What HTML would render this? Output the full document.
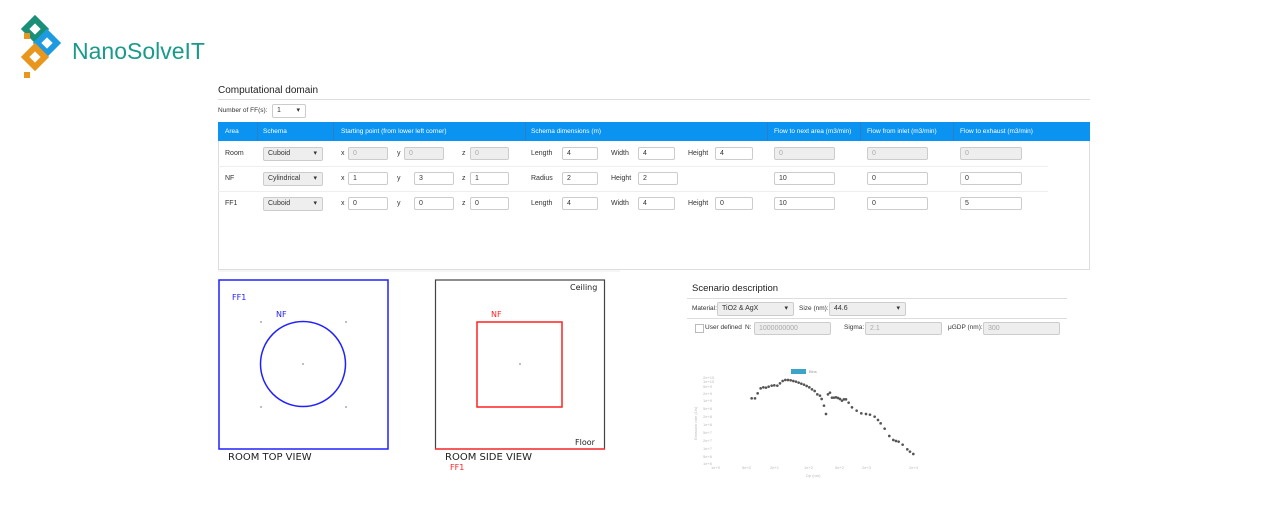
<!DOCTYPE html>
<html><head><meta charset="utf-8"><style>
body{margin:0;width:1262px;height:506px;background:#fff;position:relative;overflow:hidden;font-family:"Liberation Sans",sans-serif;color:#333}
.a{position:absolute;white-space:nowrap}
.t{font-size:7px}
.in{position:absolute;height:13px;border:1px solid #ccc;border-radius:2px;background:#fff;box-sizing:border-box;font-size:7px;line-height:11px;padding-left:4px;color:#333}
.dis{background:#eee;color:#aaa}
.sel{position:absolute;height:14px;border:1px solid #ccc;border-radius:2px;background:#eee;box-sizing:border-box;font-size:7px;line-height:12px;padding-left:4px}
.sel:after{content:"▾";position:absolute;right:5px;top:0;font-size:7px}
.hd{position:absolute;top:122px;height:19px;background:#0a93f0;}
.ht{position:absolute;top:128px;color:#fff;font-size:6.5px}
.dv{position:absolute;top:122px;width:1px;height:19px;background:#2a80c8}
</style></head><body>
<svg class="a" style="left:0;top:0" width="80" height="90">
<rect x="28" y="22" width="14" height="14" transform="rotate(45 35 29)" fill="none" stroke="#1a8f77" stroke-width="6"/>
<rect x="40" y="36" width="14" height="14" transform="rotate(45 47 43)" fill="none" stroke="#1e9be0" stroke-width="6"/>
<rect x="28" y="50" width="14" height="14" transform="rotate(45 35 57)" fill="none" stroke="#e8961e" stroke-width="6"/>
<rect x="24" y="72" width="6" height="6" fill="#e8961e"/><rect x="24" y="33" width="6" height="6" fill="#e8961e"/>
</svg>
<div class="a" style="left:72px;top:38px;font-size:23px;color:#1a9a8a">NanoSolveIT</div>

<div class="a" style="left:218px;top:85px;font-size:10px;color:#222">Computational domain</div>
<div class="a" style="left:218px;top:99px;width:872px;height:1px;background:#ddd"></div>
<div class="a t" style="left:218px;top:107px;font-size:6.5px">Number of FF(s):</div>
<div class="in" style="left:272px;top:104px;width:34px;height:14px">1<span style="position:absolute;right:5px">▾</span></div>

<div class="a" style="left:218px;top:122px;width:872px;height:148px;border:1px solid #ddd;box-sizing:border-box"></div>
<div class="hd" style="left:218px;width:872px"></div>
<div class="dv" style="left:257px"></div><div class="dv" style="left:333px"></div><div class="dv" style="left:525px"></div><div class="dv" style="left:767px"></div><div class="dv" style="left:860px"></div><div class="dv" style="left:953px"></div>
<div class="ht" style="left:225px">Area</div><div class="ht" style="left:263px">Schema</div><div class="ht" style="left:341px">Starting point (from lower left corner)</div><div class="ht" style="left:531px">Schema dimensions (m)</div><div class="ht" style="left:774px">Flow to next area (m3/min)</div><div class="ht" style="left:867px">Flow from inlet (m3/min)</div><div class="ht" style="left:960px">Flow to exhaust (m3/min)</div>
<div class="a" style="left:218px;top:166px;width:830px;height:1px;background:#eee"></div>
<div class="a" style="left:218px;top:191px;width:830px;height:1px;background:#eee"></div>

<!-- Room -->
<div class="a t" style="left:225px;top:150px">Room</div>
<div class="sel" style="left:263px;top:147px;width:60px">Cuboid</div>
<div class="a t" style="left:341px;top:150px">x</div><div class="in dis" style="left:348px;top:147px;width:40px">0</div>
<div class="a t" style="left:397px;top:150px">y</div><div class="in dis" style="left:404px;top:147px;width:40px">0</div>
<div class="a t" style="left:462px;top:150px">z</div><div class="in dis" style="left:470px;top:147px;width:39px">0</div>
<div class="a t" style="left:531px;top:150px">Length</div><div class="in" style="left:562px;top:147px;width:36px">4</div>
<div class="a t" style="left:611px;top:150px">Width</div><div class="in" style="left:638px;top:147px;width:37px">4</div>
<div class="a t" style="left:688px;top:150px">Height</div><div class="in" style="left:715px;top:147px;width:38px">4</div>
<div class="in dis" style="left:774px;top:147px;width:61px">0</div><div class="in dis" style="left:867px;top:147px;width:61px">0</div><div class="in dis" style="left:960px;top:147px;width:62px">0</div>
<!-- NF -->
<div class="a t" style="left:225px;top:175px">NF</div>
<div class="sel" style="left:263px;top:172px;width:60px">Cylindrical</div>
<div class="a t" style="left:341px;top:175px">x</div><div class="in" style="left:348px;top:172px;width:40px">1</div>
<div class="a t" style="left:397px;top:175px">y</div><div class="in" style="left:414px;top:172px;width:40px">3</div>
<div class="a t" style="left:462px;top:175px">z</div><div class="in" style="left:470px;top:172px;width:39px">1</div>
<div class="a t" style="left:531px;top:175px">Radius</div><div class="in" style="left:562px;top:172px;width:36px">2</div>
<div class="a t" style="left:611px;top:175px">Height</div><div class="in" style="left:638px;top:172px;width:40px">2</div>
<div class="in" style="left:774px;top:172px;width:61px">10</div><div class="in" style="left:867px;top:172px;width:61px">0</div><div class="in" style="left:960px;top:172px;width:62px">0</div>
<!-- FF1 -->
<div class="a t" style="left:225px;top:200px">FF1</div>
<div class="sel" style="left:263px;top:197px;width:60px">Cuboid</div>
<div class="a t" style="left:341px;top:200px">x</div><div class="in" style="left:348px;top:197px;width:40px">0</div>
<div class="a t" style="left:397px;top:200px">y</div><div class="in" style="left:414px;top:197px;width:40px">0</div>
<div class="a t" style="left:462px;top:200px">z</div><div class="in" style="left:470px;top:197px;width:39px">0</div>
<div class="a t" style="left:531px;top:200px">Length</div><div class="in" style="left:562px;top:197px;width:36px">4</div>
<div class="a t" style="left:611px;top:200px">Width</div><div class="in" style="left:638px;top:197px;width:37px">4</div>
<div class="a t" style="left:688px;top:200px">Height</div><div class="in" style="left:715px;top:197px;width:38px">0</div>
<div class="in" style="left:774px;top:197px;width:61px">10</div><div class="in" style="left:867px;top:197px;width:61px">0</div><div class="in" style="left:960px;top:197px;width:62px">5</div>

<svg class="a" style="left:0;top:0" width="1262" height="506" font-family="DejaVu Sans, sans-serif">
<line x1="218" y1="271" x2="620" y2="271" stroke="#eee"/>
<g fill="#aaa">
<circle cx="261" cy="322" r="1"/><circle cx="346" cy="322" r="1"/><circle cx="303" cy="364" r="1"/><circle cx="261" cy="407" r="1"/><circle cx="346" cy="407" r="1"/>
<circle cx="520" cy="364" r="1"/>
</g>
<rect x="219" y="280" width="169" height="169" fill="none" stroke="#2020ff" stroke-width="1.5"/>
<circle cx="303" cy="364" r="42.5" fill="none" stroke="#2020ff" stroke-width="1.5"/>
<text x="232" y="300" font-size="8" fill="#2020ff">FF1</text>
<text x="276" y="317" font-size="8" fill="#2020ff">NF</text>
<text x="228" y="460" font-size="10" fill="#222">ROOM TOP VIEW</text>
<rect x="435.5" y="280" width="169" height="169" fill="none" stroke="#444" stroke-width="1.2"/>
<line x1="435" y1="449" x2="605" y2="449" stroke="#ff3333" stroke-width="1.5"/>
<rect x="477" y="322" width="85" height="85" fill="none" stroke="#ff2020" stroke-width="1.5"/>
<text x="491" y="317" font-size="8" fill="#ff2020">NF</text>
<text x="570" y="290" font-size="8" fill="#222">Ceiling</text>
<text x="575" y="445" font-size="8" fill="#222">Floor</text>
<text x="445" y="460" font-size="10" fill="#222">ROOM SIDE VIEW</text>
<text x="450" y="470" font-size="8" fill="#ff2020">FF1</text>
</svg>

<div class="a" style="left:692px;top:283px;font-size:9.5px;color:#222">Scenario description</div>
<div class="a" style="left:687px;top:298px;width:380px;height:1px;background:#ddd"></div>
<div class="a t" style="left:692px;top:305px;font-size:6.5px">Material:</div>
<div class="sel" style="left:717px;top:302px;width:77px">TiO2 &amp; AgX</div>
<div class="a t" style="left:799px;top:305px;font-size:6.5px">Size (nm):</div>
<div class="sel" style="left:829px;top:302px;width:77px">44.6</div>
<div class="a" style="left:687px;top:318px;width:380px;height:1px;background:#ddd"></div>
<div class="a" style="left:695px;top:324px;width:7px;height:7px;border:1px solid #bbb"></div>
<div class="a t" style="left:705px;top:324px;font-size:6.5px">User defined</div>
<div class="a t" style="left:745px;top:324px;font-size:6.5px">N:</div>
<div class="in dis" style="left:754px;top:322px;width:77px">1000000000</div>
<div class="a t" style="left:844px;top:324px;font-size:6.5px">Sigma:</div>
<div class="in dis" style="left:865px;top:322px;width:77px">2.1</div>
<div class="a t" style="left:948px;top:324px;font-size:6.5px">μGDP (nm):</div>
<div class="in dis" style="left:983px;top:322px;width:77px">300</div>

<svg class="a" style="left:0;top:0" width="1262" height="506" font-family="Liberation Sans, sans-serif">
<rect x="791" y="369" width="15" height="5" fill="#3aa5c8"/>
<text x="809" y="373" font-size="4" fill="#999">Bins</text>
<g fill="#bbb" font-size="4">
<text x="703" y="379">2e+10</text><text x="703" y="383">1e+10</text><text x="703" y="388">5e+9</text>
<text x="703" y="395">2e+9</text><text x="703" y="402">1e+9</text><text x="703" y="410">5e+8</text>
<text x="703" y="418">2e+8</text><text x="703" y="426">1e+8</text><text x="703" y="434">5e+7</text>
<text x="703" y="442">2e+7</text><text x="703" y="450">1e+7</text><text x="703" y="458">5e+6</text><text x="703" y="465">1e+6</text>
<text x="711" y="469">1e+0</text><text x="742" y="469">5e+0</text><text x="770" y="469">2e+1</text><text x="804" y="469">1e+2</text><text x="835" y="469">5e+2</text><text x="862" y="469">2e+3</text><text x="909" y="469">2e+4</text>
<text x="806" y="477">Dp (nm)</text>
<text x="697" y="440" transform="rotate(-90 697 440)">Emission rate (1/s)</text>
</g>
<g transform="translate(680,280) scale(0.3333)" fill="#555">
<circle cx="215" cy="355" r="4"/><circle cx="225" cy="355" r="4"/><circle cx="233" cy="340" r="4"/><circle cx="242" cy="325" r="4"/><circle cx="250" cy="322" r="4"/><circle cx="258" cy="323" r="4"/><circle cx="266" cy="320" r="4"/><circle cx="275" cy="317" r="4"/><circle cx="283" cy="316" r="4"/><circle cx="292" cy="317" r="4"/><circle cx="300" cy="310" r="4"/><circle cx="308" cy="303" r="4"/><circle cx="316" cy="300" r="4"/><circle cx="324" cy="300" r="4"/><circle cx="332" cy="301" r="4"/><circle cx="340" cy="303" r="4"/><circle cx="348" cy="305" r="4"/><circle cx="356" cy="308" r="4"/><circle cx="364" cy="311" r="4"/><circle cx="372" cy="314" r="4"/><circle cx="380" cy="318" r="4"/><circle cx="388" cy="322" r="4"/><circle cx="396" cy="328" r="4"/><circle cx="404" cy="333" r="4"/><circle cx="412" cy="343" r="4"/><circle cx="420" cy="347" r="4"/><circle cx="425" cy="357" r="4"/><circle cx="432" cy="377" r="4"/><circle cx="438" cy="402" r="4"/><circle cx="444" cy="343" r="4"/><circle cx="450" cy="338" r="4"/><circle cx="456" cy="353" r="4"/><circle cx="462" cy="353" r="4"/><circle cx="468" cy="352" r="4"/><circle cx="474" cy="354" r="4"/><circle cx="480" cy="357" r="4"/><circle cx="486" cy="362" r="4"/><circle cx="492" cy="358" r="4"/><circle cx="498" cy="358" r="4"/><circle cx="506" cy="368" r="4"/><circle cx="516" cy="382" r="4"/><circle cx="530" cy="392" r="4"/><circle cx="544" cy="400" r="4"/><circle cx="558" cy="402" r="4"/><circle cx="570" cy="404" r="4"/><circle cx="584" cy="410" r="4"/><circle cx="594" cy="420" r="4"/><circle cx="602" cy="430" r="4"/><circle cx="614" cy="446" r="4"/><circle cx="628" cy="468" r="4"/><circle cx="640" cy="480" r="4"/><circle cx="648" cy="483" r="4"/><circle cx="656" cy="485" r="4"/><circle cx="668" cy="494" r="4"/><circle cx="682" cy="508" r="4"/><circle cx="690" cy="515" r="4"/><circle cx="700" cy="522" r="4"/>
</g>
</svg>
</body></html>
